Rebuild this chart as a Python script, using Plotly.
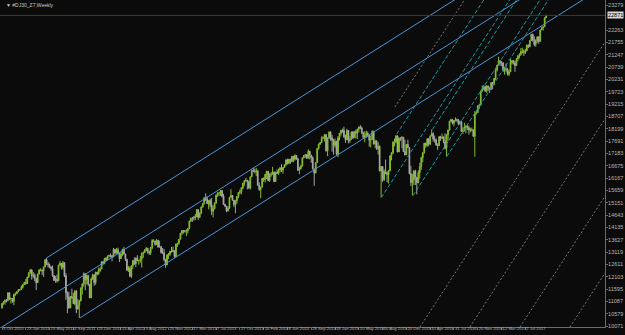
import pandas as pd
import plotly.graph_objects as go

# ---------------- data: weekly #DJ30 bars (Sunday-dated weeks) ----------------
first_week = "2010-10-03"
first_open = 10830

close_2010 = [11006, 11062, 11133, 11118, 11444, 11192, 11204, 11092, 11382, 11410, 11491, 11573, 11577]
high_2010 = [11020, 11100, 11170, 11180, 11450, 11450, 11250, 11230, 11400, 11460, 11500, 11580, 11600]
low_2010 = [10780, 10950, 10950, 11040, 11090, 11150, 11000, 11030, 10930, 11320, 11380, 11460, 11520]

close_2011 = [11674, 11787, 11871, 11823, 12092, 12273, 12391, 12130, 12169, 12044, 11858, 12220, 12376,
              12380, 12341, 12505, 12811, 12638, 12595, 12512, 12441, 12151, 11952, 12004, 11934, 12582,
              12657, 12480, 12681, 12143, 11445, 11269, 10818, 11285, 11240, 10992, 11509, 10772, 10913,
              11103, 11644, 11809, 12231, 11983, 12153, 11796, 11231, 12019, 12184, 11866, 12294, 12218]
high_2011 = [11750, 11800, 11890, 12010, 12100, 12280, 12400, 12390, 12300, 12240, 12060, 12230, 12420,
             12450, 12400, 12520, 12820, 12880, 12720, 12650, 12520, 12570, 12170, 12130, 12190, 12600,
             12750, 12660, 12750, 12710, 12250, 11500, 11480, 11310, 11610, 11440, 11550, 11550, 11190,
             11150, 11660, 11830, 12280, 12230, 12200, 12180, 11800, 12080, 12230, 12190, 12300, 12300]
low_2011 = [11570, 11620, 11760, 11770, 11820, 12050, 12220, 11980, 12040, 11920, 11550, 11850, 12200,
            12330, 12170, 12090, 12500, 12580, 12480, 12450, 12350, 12100, 11930, 11860, 11860, 11940,
            12560, 12400, 12400, 12090, 11150, 10600, 10790, 10820, 11200, 10980, 10930, 10600, 10750,
            10404, 11100, 11370, 11700, 11550, 11780, 11730, 11230, 11240, 11970, 11730, 11770, 12150]

close_2012 = [12360, 12422, 12720, 12660, 12862, 12801, 12950, 12983, 12978, 12922, 13233, 13081, 13212,
              13060, 12850, 13029, 13228, 13038, 12821, 12369, 12455, 12119, 12554, 12767, 12640, 12880,
              12772, 12777, 12822, 13075, 13096, 13207, 13275, 13157, 13090, 13306, 13593, 13579, 13437,
              13610, 13328, 13343, 13107, 13093, 12815, 12588, 13010, 13025, 13155, 13135, 13190, 12938]
high_2012 = [12480, 12490, 12730, 12760, 12880, 12910, 12980, 13010, 13060, 12990, 13290, 13240, 13290,
             13300, 13080, 13120, 13260, 13340, 13050, 12840, 12550, 12520, 12570, 12790, 12900, 12890,
             12990, 12790, 12960, 13100, 13140, 13240, 13330, 13290, 13170, 13330, 13650, 13650, 13580,
             13660, 13610, 13590, 13370, 13290, 13250, 12840, 13020, 13080, 13170, 13330, 13350, 13200]
low_2012 = [12200, 12300, 12420, 12590, 12620, 12750, 12770, 12900, 12900, 12740, 12910, 13020, 13050,
            13030, 12710, 12830, 12950, 13020, 12750, 12340, 12300, 12100, 12050, 12420, 12590, 12500,
            12740, 12600, 12680, 12480, 12880, 13080, 13150, 13050, 13000, 13010, 13240, 13520, 13380,
            13420, 13300, 13310, 13060, 13040, 12740, 12470, 12600, 12840, 12960, 13100, 13120, 12880]

close_2013 = [13435, 13488, 13650, 13896, 14010, 13993, 13981, 14001, 14090, 14397, 14514, 14512, 14579,
              14565, 14865, 14547, 14712, 14974, 15118, 15354, 15303, 15116, 15248, 15070, 14800, 14910,
              15136, 15464, 15544, 15559, 15659, 15425, 15081, 15010, 14810, 14922, 15376, 15451, 15258,
              15073, 15237, 15400, 15570, 15615, 15762, 15962, 16064, 16086, 16020, 15755, 16221, 16479]
high_2013 = [13480, 13500, 13660, 13900, 14020, 14010, 14030, 14060, 14110, 14420, 14540, 14560, 14590,
             14690, 14890, 14880, 14760, 15000, 15130, 15370, 15540, 15410, 15260, 15320, 15350, 15040,
             15160, 15490, 15590, 15580, 15670, 15660, 15520, 15110, 15020, 15010, 15390, 15710, 15440,
             15270, 15270, 15430, 15590, 15700, 15800, 15970, 16070, 16180, 16090, 16060, 16230, 16500]
low_2013 = [12980, 13330, 13430, 13640, 13820, 13880, 13920, 13780, 13890, 14060, 14370, 14360, 14420,
            14430, 14560, 14440, 14550, 14720, 14960, 15080, 15220, 15100, 14880, 14970, 14650, 14550,
            14880, 15130, 15400, 15420, 15430, 15370, 15060, 14980, 14760, 14800, 14930, 15420, 15240,
            14970, 14720, 15110, 15350, 15500, 15500, 15710, 15850, 16020, 15700, 15730, 15700, 16210]

close_2014 = [16470, 16437, 16459, 15880, 15699, 15794, 16154, 16104, 16322, 16453, 16066, 16303, 16323,
              16413, 16027, 16409, 16361, 16513, 16584, 16492, 16607, 16717, 16925, 16776, 16948, 16852,
              17068, 16944, 17100, 16961, 16493, 16554, 16663, 17001, 17098, 17138, 16988, 17280, 17113,
              17009, 16544, 16380, 16805, 17391, 17574, 17635, 17810, 17828, 17958, 17281, 17805, 18054]
high_2014 = [16590, 16560, 16590, 16510, 16000, 15810, 16160, 16200, 16330, 16460, 16450, 16370, 16420,
             16630, 16440, 16430, 16530, 16560, 16630, 16740, 16620, 16730, 16930, 16970, 16960, 16950,
             17080, 17070, 17150, 17090, 17000, 16630, 16720, 17030, 17120, 17150, 17140, 17350, 17280,
             17120, 17060, 16560, 16830, 17400, 17590, 17660, 17890, 17890, 17990, 17950, 17850, 18100]
low_2014 = [16410, 16360, 16250, 15850, 15640, 15340, 15790, 16020, 15990, 16130, 16040, 16010, 16220,
            16320, 16000, 16020, 16340, 16300, 16400, 16420, 16350, 16590, 16670, 16730, 16740, 16760,
            16820, 16820, 16880, 16920, 16460, 16330, 16520, 16650, 16980, 17010, 16960, 16970, 16940,
            16800, 16530, 15850, 16370, 16800, 17340, 17530, 17620, 17780, 17680, 17270, 17070, 17800]

close_2015 = [17833, 17737, 17512, 17673, 17165, 17825, 18019, 18141, 18133, 17857, 17750, 18128, 17713,
              17763, 18058, 17827, 18081, 18025, 18191, 18273, 18232, 18011, 17849, 17899, 18016, 17947,
              17730, 17760, 18086, 17569, 17690, 17373, 17477, 16460, 16643, 16102, 16433, 16385, 16315,
              16472, 17084, 17216, 17647, 17664, 17910, 17245, 17824, 17798, 17848, 17265, 17128, 17552]
high_2015 = [18100, 17950, 17790, 17800, 17710, 17900, 18030, 18150, 18210, 18290, 17960, 18200, 18150,
             17900, 18090, 18110, 18100, 18160, 18200, 18290, 18350, 18290, 18080, 18100, 18120, 18090,
             17940, 17920, 18140, 18120, 17750, 17730, 17640, 17510, 16660, 16650, 16530, 16930, 16450,
             16500, 17100, 17220, 17690, 17800, 17930, 17900, 17830, 17850, 17900, 17840, 17750, 17570]
low_2015 = [17700, 17260, 17130, 17430, 17120, 17030, 17720, 17920, 18040, 17840, 17620, 17740, 17600,
            17620, 17760, 17780, 17820, 17800, 17780, 18050, 18180, 17990, 17790, 17640, 17820, 17870,
            17460, 17430, 17750, 17560, 17400, 17330, 17140, 16450, 15370, 16010, 16050, 16330, 16000,
            15940, 16450, 16900, 17160, 17480, 17600, 17230, 17240, 17700, 17400, 17240, 17100, 17150]

close_2016 = [17425, 16347, 15988, 16094, 16466, 16205, 15974, 16392, 16640, 17007, 17213, 17602, 17516,
              17793, 17577, 17898, 18004, 17774, 17741, 17535, 17501, 17873, 17807, 17865, 17675, 17400,
              17949, 18147, 18517, 18571, 18432, 18543, 18576, 18553, 18395, 18492, 18086, 18124, 18262,
              18308, 18240, 18138, 18146, 18161, 17888, 18848, 18868, 19152, 19171, 19757, 19843, 19934,
              19763]
high_2016 = [17750, 17410, 16680, 16350, 16490, 16510, 16210, 16490, 16800, 17050, 17240, 17620, 17630,
             17800, 17800, 17930, 18170, 18050, 17920, 17800, 17600, 17900, 17910, 18000, 17880, 18010,
             17960, 18160, 18530, 18620, 18600, 18560, 18670, 18620, 18600, 18530, 18540, 18260, 18450,
             18340, 18340, 18330, 18250, 18250, 18170, 18930, 18930, 19160, 19230, 19770, 19990, 19990,
             19980]
low_2016 = [17420, 16330, 15840, 15450, 15880, 15880, 15500, 15960, 16150, 16510, 16820, 17180, 17420,
            17460, 17480, 17530, 17890, 17670, 17630, 17500, 17330, 17490, 17700, 17790, 17600, 17350,
            17060, 17710, 18130, 18460, 18380, 18300, 18500, 18470, 18340, 18380, 18080, 17990, 18090,
            18010, 18150, 17960, 18050, 18090, 17880, 17050, 18780, 18870, 19010, 19180, 19730, 19800,
            19720]

close_2017 = [19964, 19886, 19827, 20094, 20071, 20269, 20624, 20822, 21006, 20903, 20915, 20597, 20663,
              20656, 20453, 20548, 20941, 21007, 20897, 20805, 21080, 21206, 21272, 21384, 21395, 21350,
              21414, 21638, 21580, 21830, 22092, 21858, 21675, 21814, 21988, 21798, 22268, 22350, 22405,
              22774, 22871]
high_2017 = [19990, 19980, 19900, 20130, 20130, 20290, 20640, 20830, 21170, 21010, 20990, 20950, 20760,
             20890, 20700, 20630, 21070, 21030, 21020, 21000, 21110, 21230, 21310, 21530, 21540, 21470,
             21500, 21680, 21680, 21850, 22100, 22120, 22010, 21890, 22000, 22000, 22290, 22420, 22420,
             22790, 22900]
low_2017 = [19680, 19750, 19680, 19800, 19830, 19990, 20210, 20560, 20800, 20800, 20780, 20550, 20430,
            20550, 20400, 20370, 20550, 20850, 20850, 20550, 20800, 20980, 21100, 21200, 21300, 21200,
            21280, 21400, 21520, 21560, 21820, 21790, 21600, 21580, 21740, 21700, 21800, 22260, 22250,
            22400, 22760]

bid_price = 22871
bid_label = "22871"
chart_title = "\u25bc #DJ30_Z7,Weekly"

# axis ticks (as shown by the terminal)
x_tick_dates = ["2010-10-03", "2011-01-23", "2011-05-15", "2011-09-04", "2011-12-25", "2012-04-15",
                "2012-08-05", "2012-11-25", "2013-03-17", "2013-07-07", "2013-10-27", "2014-02-16",
                "2014-06-08", "2014-09-28", "2015-01-18", "2015-05-10", "2015-08-30", "2015-12-20",
                "2016-04-10", "2016-07-31", "2016-11-20", "2017-03-12", "2017-07-02"]
x_tick_text = ["3 Oct 2010", "23 Jan 2011", "15 May 2011", "4 Sep 2011", "25 Dec 2011", "15 Apr 2012",
               "5 Aug 2012", "25 Nov 2012", "17 Mar 2013", "7 Jul 2013", "27 Oct 2013", "16 Feb 2014",
               "8 Jun 2014", "28 Sep 2014", "18 Jan 2015", "10 May 2015", "30 Aug 2015", "20 Dec 2015",
               "10 Apr 2016", "31 Jul 2016", "20 Nov 2016", "12 Mar 2017", "2 Jul 2017"]
y_tick_vals = [23279, 22263, 21755, 21247, 20739, 20231, 19723, 19215, 18707, 18199, 17691, 17183,
               16675, 16167, 15659, 15151, 14643, 14135, 13627, 13119, 12611, 12103, 11595, 11087,
               10579, 10071]

x_range = ["2010-09-23 14:00", "2018-07-12"]
y_range = [10033, 23506]

# drawn trend objects: (anchor1, anchor2) in (date, price)
blue_channel = [
    (("2010-10-03", 10033), ("2017-06-02", 23506)),
    (("2011-05-01", 12880), ("2016-04-04", 22843)),
    (("2011-10-04", 10404), ("2017-03-26", 21474)),
]
teal_lines = [
    (("2015-08-24", 15370), ("2017-01-05", 22110)),
    (("2016-01-20", 15450), ("2017-06-03", 22190)),
    (("2015-11-04", 17980), ("2017-03-18", 24720)),
    (("2016-04-20", 18170), ("2017-09-02", 24910)),
    (("2016-06-27", 17060), ("2017-11-09", 23800)),
]
gray_dotted = [
    (("2015-10-27", 19097), ("2017-03-10", 25837)),
    (("2016-02-22", 10033), ("2017-07-06", 16773)),
    (("2016-10-14", 10033), ("2018-02-26", 16773)),
    (("2017-06-07", 10033), ("2018-10-20", 16773)),
    (("2018-01-28", 10033), ("2019-06-12", 16773)),
]

# ---------------- build ----------------
closes = close_2010 + close_2011 + close_2012 + close_2013 + close_2014 + close_2015 + close_2016 + close_2017
highs = high_2010 + high_2011 + high_2012 + high_2013 + high_2014 + high_2015 + high_2016 + high_2017
lows = low_2010 + low_2011 + low_2012 + low_2013 + low_2014 + low_2015 + low_2016 + low_2017
opens = [first_open] + closes[:-1]
weeks = pd.date_range(first_week, periods=len(closes), freq="7D")

fig = go.Figure()


def ray(a, b, start=None, end="2018-09-01"):
    t0, p0 = pd.Timestamp(a[0]), a[1]
    t1, p1 = pd.Timestamp(b[0]), b[1]
    slope = (p1 - p0) / (t1 - t0).total_seconds()
    ts = pd.Timestamp(start) if start else t0
    te = pd.Timestamp(end)
    ps = p0 + slope * (ts - t0).total_seconds()
    pe = p0 + slope * (te - t0).total_seconds()
    return [ts, te], [ps, pe]


for a, b in gray_dotted:
    xs, ys = ray(a, b, end="2019-08-01")
    fig.add_trace(go.Scatter(x=xs, y=ys, mode="lines", hoverinfo="skip",
                             line=dict(color="#7a7a7a", width=1, dash="2px,2px")))
for a, b in teal_lines:
    xs, ys = ray(a, b)
    fig.add_trace(go.Scatter(x=xs, y=ys, mode="lines", hoverinfo="skip",
                             line=dict(color="#1f9aa3", width=1, dash="4px,2px")))
for i, (a, b) in enumerate(blue_channel):
    xs, ys = ray(a, b, start="2010-09-01" if i == 0 else None)
    fig.add_trace(go.Scatter(x=xs, y=ys, mode="lines", hoverinfo="skip",
                             line=dict(color="#4a96dc", width=1)))

# bid line
fig.add_trace(go.Scatter(x=[x_range[0], x_range[1]], y=[bid_price, bid_price], mode="lines",
                         hoverinfo="skip", line=dict(color="#3a3a3a", width=1)))

fig.add_trace(go.Candlestick(
    x=weeks, open=opens, high=highs, low=lows, close=closes,
    increasing=dict(line=dict(color="#86bd2e", width=1), fillcolor="#a6dc3c"),
    decreasing=dict(line=dict(color="#a4a4a4", width=1), fillcolor="#f4f4f4"),
    whiskerwidth=0, hoverinfo="skip"))

fig.add_annotation(xref="paper", yref="paper", x=0.006, y=0.999, xanchor="left", yanchor="top",
                   text=chart_title, showarrow=False,
                   font=dict(size=5, color="#c8c8c8", family="Liberation Sans"))
fig.add_annotation(xref="paper", yref="y", x=1.003, y=bid_price, xanchor="left", yanchor="middle",
                   text=bid_label, showarrow=False, bgcolor="#d8d8d8", borderpad=0,
                   font=dict(size=5.5, color="#000000", family="Liberation Sans"))

axis_font = dict(size=5.5, color="#b8b8b8", family="Liberation Sans")
x_font = dict(size=4.2, color="#b8b8b8", family="Liberation Sans Narrow, Liberation Sans")
fig.update_layout(
    template="none",
    width=625, height=335,
    margin=dict(l=0, r=20, t=0, b=8),
    paper_bgcolor="#0b0b0b", plot_bgcolor="#0b0b0b",
    showlegend=False,
    xaxis=dict(type="date", range=x_range, showgrid=False, zeroline=False,
               tickvals=x_tick_dates, ticktext=x_tick_text, tickfont=x_font, tickangle=0,
               ticks="outside", ticklen=2, tickcolor="#6a6a6a",
               showline=True, linecolor="#6a6a6a", linewidth=1,
               ticklabelposition="outside right", ticklabelstandoff=-3, automargin=False,
               rangeslider=dict(visible=False), fixedrange=True),
    yaxis=dict(side="right", range=y_range, showgrid=False, zeroline=False,
               tickvals=y_tick_vals, ticktext=[str(v) for v in y_tick_vals], tickfont=axis_font,
               ticks="outside", ticklen=2, tickcolor="#6a6a6a", ticklabelstandoff=-1,
               showline=True, linecolor="#6a6a6a", linewidth=1, automargin=False, fixedrange=True),
)

fig.write_html("out.html")
